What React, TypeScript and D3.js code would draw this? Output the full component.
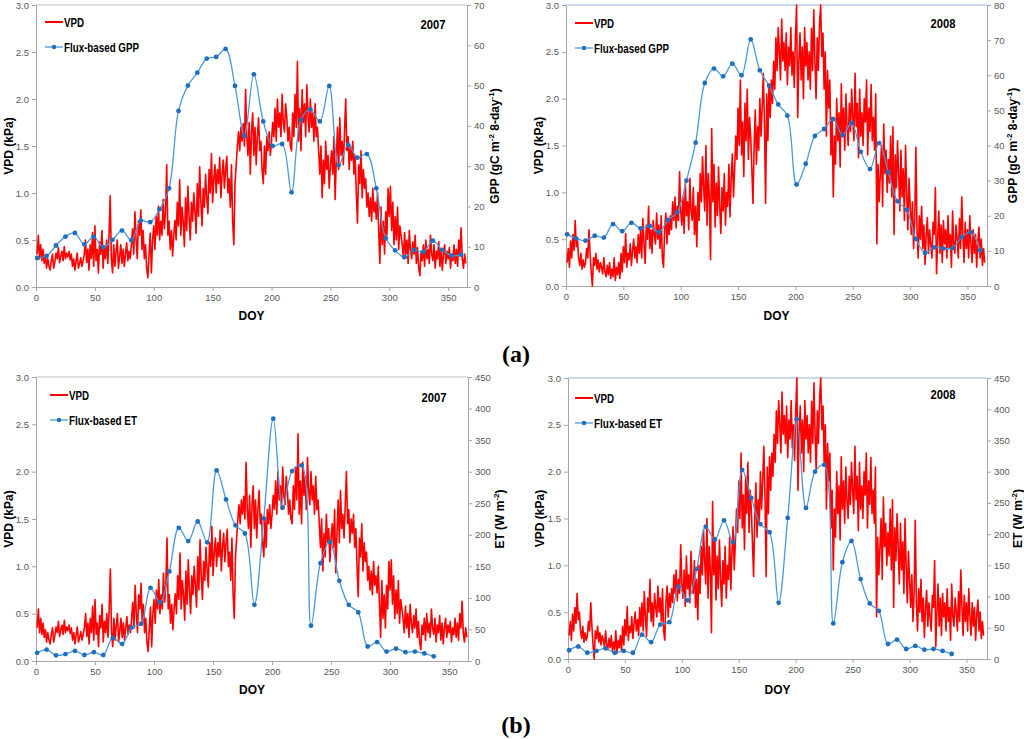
import { useEffect, useRef } from "react";
import * as d3 from "d3";

// daily VPD (kPa), DOY 1..365
const vpd2007 = [
  0.35, 0.55, 0.3, 0.45, 0.28, 0.4, 0.25, 0.33, 0.2, 0.3,
  0.22, 0.18, 0.28, 0.35, 0.2, 0.27, 0.36, 0.3, 0.42, 0.26,
  0.33, 0.38, 0.28, 0.43, 0.3, 0.36, 0.32, 0.38, 0.29, 0.35,
  0.22, 0.3, 0.18, 0.27, 0.36, 0.2, 0.25, 0.31, 0.22, 0.28,
  0.35, 0.5, 0.26, 0.4, 0.18, 0.45, 0.3, 0.58, 0.22, 0.65,
  0.28, 0.4, 0.15, 0.48, 0.35, 0.6, 0.2, 0.42, 0.3, 0.5,
  0.25, 0.55, 0.97, 0.3, 0.15, 0.45, 0.22, 0.38, 0.5, 0.2,
  0.32, 0.45, 0.25, 0.4, 0.22, 0.35, 0.47, 0.28, 0.38, 0.3,
  0.45, 0.62, 0.35, 0.8, 0.5, 0.3, 0.7, 0.55, 0.82, 0.4,
  0.6, 0.3, 0.45, 0.2, 0.1, 0.35, 0.57, 0.15, 0.5, 0.65,
  0.4, 0.75, 0.55, 0.86, 0.5, 0.7, 0.55, 0.93, 0.62, 0.8,
  1.3, 0.55, 0.7, 0.4, 0.6, 0.33, 0.55, 0.71, 0.5, 0.9,
  0.65, 1.14, 0.55, 0.85, 0.7, 0.43, 0.95, 0.6, 1.07, 0.75,
  0.5, 0.9, 0.7, 1.0, 0.8, 0.57, 1.1, 0.75, 1.28, 0.9,
  0.65, 1.05, 0.85, 1.2, 0.95, 0.78, 1.25, 1.0, 1.42, 0.9,
  1.15, 1.3, 1.0, 1.25, 1.1, 1.38, 0.95, 1.2, 1.35, 1.05,
  1.25, 1.39, 1.0, 1.15, 0.85, 1.3, 0.7, 0.45, 1.1, 1.3,
  1.5, 1.65, 1.45, 1.7, 1.55, 1.74, 1.5, 2.1, 1.6, 1.4,
  1.75, 1.2, 1.65, 1.85, 1.4, 1.7, 1.3, 1.6, 1.8, 1.45,
  1.55, 1.25, 1.1, 1.5, 1.2, 1.6, 1.45, 1.65, 1.4, 1.55,
  1.75, 1.6, 1.9, 1.55, 2.0, 1.7, 1.85, 1.6, 2.05, 1.75,
  1.65, 1.95, 1.8, 1.55, 1.7, 1.5, 1.45, 1.85, 1.6, 2.05,
  1.7, 2.4, 1.55, 1.9, 1.45, 2.1, 1.75, 1.95, 1.6, 2.15,
  1.8, 1.65, 2.0, 1.7, 1.85, 1.55, 1.95, 1.6, 1.7, 1.45,
  1.2, 1.5, 0.95, 1.35, 1.1, 1.55, 1.25, 1.4, 1.05, 1.3,
  1.45, 1.2, 1.6, 0.93, 1.35, 1.7, 1.25, 1.8, 1.4, 1.55,
  1.3, 1.65, 2.0, 1.45, 1.6, 1.25, 1.5, 1.35, 1.55, 1.2,
  1.4, 1.0, 0.68, 1.3, 1.1, 1.45, 0.95, 1.25, 1.05, 1.15,
  0.85, 1.0, 0.75, 0.95, 0.7, 1.05, 0.8, 0.9, 0.72, 1.0,
  0.6, 0.25, 0.85, 0.45, 0.7, 0.35, 0.8, 0.55, 1.05, 0.75,
  1.07, 0.6, 0.9, 0.45, 0.75, 0.5, 0.85, 0.4, 0.65, 0.55,
  0.45, 0.3, 0.58, 0.35, 0.5, 0.25, 0.6, 0.4, 0.3, 0.48,
  0.35, 0.55, 0.25, 0.42, 0.2, 0.12, 0.38, 0.28, 0.45, 0.22,
  0.5, 0.3, 0.4, 0.25, 0.55, 0.35, 0.28, 0.45, 0.2, 0.38,
  0.3, 0.48, 0.22, 0.4, 0.18, 0.35, 0.45, 0.25, 0.38, 0.3,
  0.42, 0.2, 0.35, 0.28, 0.45, 0.25, 0.4, 0.22, 0.5, 0.35,
  0.63, 0.3, 0.2, 0.35, 0.25,
];

const vpd2008 = [
  0.25, 0.4, 0.2, 0.48, 0.3, 0.55, 0.38, 0.7, 0.42, 0.5,
  0.3, 0.22, 0.35, 0.18, 0.28, 0.2, 0.25, 0.4, 0.3, 0.6,
  0.35, 0.15, 0.0, 0.3, 0.22, 0.35, 0.18, 0.28, 0.15, 0.25,
  0.2, 0.13, 0.3, 0.15, 0.1, 0.22, 0.12, 0.25, 0.08, 0.18,
  0.1, 0.3, 0.06, 0.2, 0.12, 0.25, 0.08, 0.35, 0.15, 0.42,
  0.25, 0.56, 0.2, 0.35, 0.28, 0.45, 0.22, 0.38, 0.5, 0.3,
  0.42, 0.25, 0.55, 0.35, 0.6, 0.3, 0.72, 0.45, 0.24, 0.65,
  0.5, 0.85, 0.4, 0.6, 0.35, 0.7, 0.55, 0.45, 0.78, 0.5,
  0.65, 0.4, 0.75, 0.3, 0.2, 0.6, 0.78, 0.45, 0.7, 0.55,
  0.75, 0.6, 0.9, 0.7, 0.95, 0.62, 0.85, 0.7, 1.22, 0.8,
  0.65, 0.95, 0.56, 1.1, 0.75, 0.9, 0.6, 1.15, 0.8, 0.7,
  1.05, 0.55, 0.85, 0.42, 1.0, 0.7, 1.2, 0.9, 1.38, 1.05,
  0.8, 1.5, 0.65, 1.2, 0.95, 0.28, 1.68, 0.9, 1.3, 0.63,
  1.1, 0.75, 1.27, 0.85, 0.56, 1.05, 0.8, 1.2, 0.65, 1.0,
  0.85, 1.3, 0.74, 1.15, 1.41, 0.95, 1.25, 1.6, 1.35, 1.9,
  1.5, 2.2, 1.4, 1.75, 1.17, 1.95, 1.55, 2.1, 1.35, 1.8,
  1.6, 1.25, 0.88, 1.5, 1.88, 1.3, 1.7, 1.45, 2.0, 1.6,
  1.9, 2.27, 1.75, 0.88, 2.05, 1.55, 2.16, 1.8, 2.2, 1.95,
  2.4, 2.1, 2.65, 2.3, 2.76, 2.5, 2.2, 2.85, 2.4, 2.6,
  2.3, 2.7, 2.15, 2.55, 2.35, 2.76, 2.25, 2.5, 2.12, 2.65,
  3.0, 1.8, 2.4, 2.7, 2.2, 2.55, 2.0, 2.76, 2.35, 2.6,
  2.2, 2.5, 2.1, 2.75, 2.3, 2.95, 2.4, 2.0, 2.65, 2.3,
  2.8, 3.0, 2.45, 2.7, 2.1, 2.5, 1.6, 2.3, 1.9, 2.2,
  1.4, 1.8, 0.95, 1.6, 1.3, 2.0, 1.55, 1.85, 1.27, 2.16,
  1.6, 1.9, 1.45, 2.05, 1.7, 1.5, 1.95, 1.65, 2.1, 1.8,
  1.55, 2.27, 1.7, 1.95, 1.37, 2.1, 1.6, 1.85, 1.5, 2.0,
  1.75, 2.2, 1.4, 1.9, 1.65, 2.15, 1.55, 1.8, 1.45, 2.05,
  0.45, 1.3, 0.9, 1.2, 1.5, 0.85, 1.73, 1.2, 1.45, 1.0,
  1.35, 1.1, 1.6, 0.95, 1.7, 0.55, 1.4, 1.05, 1.55, 1.2,
  0.8, 1.45, 0.95, 1.25, 0.7, 1.5, 1.0, 0.6, 1.15, 0.85,
  0.55, 0.9, 0.4, 0.7, 1.48, 0.6, 0.3, 0.75, 0.5, 0.85,
  0.4, 0.65, 0.23, 0.55, 0.73, 0.35, 0.6, 0.45, 0.3, 0.68,
  0.55, 1.05, 0.13, 0.5, 0.8, 0.35, 0.65, 0.25, 0.7, 0.45,
  0.6, 0.3, 0.75, 0.4, 0.55, 0.2, 0.8, 0.45, 0.35, 0.65,
  0.5, 0.3, 0.72, 0.4, 0.95, 0.55, 0.25, 0.68, 0.4, 0.6,
  0.3, 0.75, 0.45, 0.25, 0.6, 0.35, 0.55, 0.2, 0.48, 0.63,
  0.3, 0.5, 0.22, 0.4, 0.25,
];

// 8-day flux values, starting DOY 1
const gpp2007 = [
  7.2, 7.7, 10.3, 12.5, 13.4, 10.6, 12.5, 9.9, 11.7, 14.0,
  11.6, 16.5, 16.1, 19.3, 24.5, 43.7, 50.0, 53.2, 56.7, 57.1,
  59.1, 49.9, 37.5, 52.8, 41.1, 35.0, 35.5, 23.5, 41.5, 44.1,
  41.1, 49.9, 30.2, 35.3, 32.1, 33.0, 24.5, 12.1, 9.1, 7.4,
  9.2, 8.7, 11.5, 9.2, 7.8, 8.0,
];
const gpp2008 = [
  14.7, 13.5, 12.9, 14.3, 13.8, 17.6, 15.6, 18.0, 16.4, 17.1,
  15.3, 18.8, 21.0, 30.0, 40.8, 57.8, 61.9, 59.7, 63.3, 60.0,
  70.2, 61.4, 57.0, 51.7, 48.5, 28.9, 34.8, 42.7, 44.7, 47.5,
  42.9, 46.4, 38.2, 33.3, 40.7, 32.4, 24.1, 21.7, 13.4, 9.4,
  11.0, 10.7, 10.8, 13.9, 15.3, 10.1,
];
const et2007 = [
  13, 18, 9, 11, 16, 9.5, 14, 9.5, 37, 27,
  53, 59, 116, 93, 142, 211, 190, 221, 188, 302,
  256, 215, 202, 89, 226, 384, 243, 301, 310, 56,
  155, 189, 127, 89, 77, 23, 30, 15, 19.5, 14,
  15, 12, 7.4,
];
const et2008 = [
  14, 20, 10, 13, 17, 10, 13, 10, 39, 27,
  55, 59, 116, 94, 144, 212, 191, 222, 187, 303,
  258, 216, 203, 90, 226, 384, 242, 300, 311, 57,
  155, 189, 128, 89, 77, 24, 31, 16, 21, 15,
  16, 13, 8,
];

const vpdTicks = [0, 0.5, 1, 1.5, 2, 2.5, 3];
const doyTicks = [0, 50, 100, 150, 200, 250, 300, 350];
const gppTicks2007 = [0, 10, 20, 30, 40, 50, 60, 70];
const gppTicks2008 = [0, 10, 20, 30, 40, 50, 60, 70, 80];
const etTicks = [0, 50, 100, 150, 200, 250, 300, 350, 400, 450];

const panels = [
  { year: "2007", vpd: vpd2007, flux: gpp2007, fluxName: "Flux-based GPP", kind: "gpp", yTicks: gppTicks2007,
    left: 36, right: 467, top: 5, bottom: 287, xMax: 366, topColor: "#bfbfbf",
    legX: 45, legY: 22, yearX: 433, yearY: 29, vpdLabX: 9, rLabX: 495, doyY: 320 },
  { year: "2008", vpd: vpd2008, flux: gpp2008, fluxName: "Flux-based GPP", kind: "gpp", yTicks: gppTicks2008,
    left: 566, right: 987, top: 5, bottom: 286, xMax: 367, topColor: "#95b3d7",
    legX: 575, legY: 23, yearX: 943, yearY: 28, vpdLabX: 539, rLabX: 1013, doyY: 320 },
  { year: "2007", vpd: vpd2007, flux: et2007, fluxName: "Flux-based ET", kind: "et", yTicks: etTicks,
    left: 36, right: 468, top: 377, bottom: 661, xMax: 366, topColor: "#bfbfbf",
    legX: 50, legY: 395, yearX: 434, yearY: 402, vpdLabX: 9, rLabX: 500, doyY: 694 },
  { year: "2008", vpd: vpd2008, flux: et2008, fluxName: "Flux-based ET", kind: "et", yTicks: etTicks,
    left: 568, right: 987, top: 378, bottom: 659, xMax: 368, topColor: "#95b3d7",
    legX: 575, legY: 398, yearX: 943, yearY: 399, vpdLabX: 540, rLabX: 1018, doyY: 694 },
];

const sans = "'Liberation Sans', Arial, sans-serif";

function App() {
  const svgRef = useRef(null);

  useEffect(() => {
    const svg = d3.select(svgRef.current);
    svg.selectAll("*").remove();

    // bold condensed-looking label (Excel Calibri look)
    const narrowText = (g, x, y, txt, size, len, anchor = "start") =>
      g.append("text")
        .attr("x", x)
        .attr("y", y)
        .attr("text-anchor", anchor)
        .attr("textLength", len)
        .attr("lengthAdjust", "spacingAndGlyphs")
        .text(txt)
        .style("font-family", sans)
        .style("font-weight", "bold")
        .style("font-size", size);

    panels.forEach((p) => {
      const g = svg.append("g");
      const x = d3.scaleLinear().domain([0, p.xMax]).range([p.left, p.right]);
      const yL = d3.scaleLinear().domain([0, 3]).range([p.bottom, p.top]);
      const yR = d3
        .scaleLinear()
        .domain([0, p.yTicks[p.yTicks.length - 1]])
        .range([p.bottom, p.top]);

      // top border
      g.append("line")
        .attr("x1", p.left)
        .attr("x2", p.right)
        .attr("y1", p.top)
        .attr("y2", p.top)
        .attr("stroke", p.topColor)
        .attr("stroke-width", 1);

      const styleAxis = (sel) => {
        sel.selectAll("path").attr("stroke", "#a6a6a6");
        sel.selectAll("line").attr("stroke", "#a6a6a6");
        sel.selectAll("text")
          .attr("fill", "#595959")
          .style("font-family", sans)
          .style("font-size", "9.5px");
      };

      g.append("g")
        .attr("transform", `translate(${p.left},0)`)
        .call(d3.axisLeft(yL).tickValues(vpdTicks).tickFormat(d3.format(".1f")).tickSize(4).tickSizeOuter(0))
        .call(styleAxis);

      g.append("g")
        .attr("transform", `translate(${p.right},0)`)
        .call(d3.axisRight(yR).tickValues(p.yTicks).tickSize(4).tickSizeOuter(0))
        .call(styleAxis);

      g.append("g")
        .attr("transform", `translate(0,${p.bottom})`)
        .call(d3.axisBottom(x).tickValues(doyTicks).tickSize(4).tickSizeOuter(0))
        .call(styleAxis);

      // VPD daily line
      const vpdLine = d3
        .line()
        .x((d, i) => x(i + 1))
        .y((d) => yL(d));
      g.append("path")
        .datum(p.vpd)
        .attr("d", vpdLine)
        .attr("fill", "none")
        .attr("stroke", "#ff0000")
        .attr("stroke-width", 1.6)
        .attr("stroke-linejoin", "round");

      // flux 8-day line
      const days = p.flux.map((d, i) => 1 + i * 8);
      const fluxLine = d3
        .line()
        .x((d, i) => x(days[i]))
        .y((d) => yR(d))
        .curve(d3.curveCatmullRom);
      g.append("path")
        .datum(p.flux)
        .attr("d", fluxLine)
        .attr("fill", "none")
        .attr("stroke", "#4a9ad8")
        .attr("stroke-width", 1.3);
      g.selectAll(".mk")
        .data(p.flux)
        .enter()
        .append("circle")
        .attr("cx", (d, i) => x(days[i]))
        .attr("cy", (d) => yR(d))
        .attr("r", 2.4)
        .attr("fill", "#1f6fc0");

      // legend
      g.append("line")
        .attr("x1", p.legX)
        .attr("x2", p.legX + 18)
        .attr("y1", p.legY)
        .attr("y2", p.legY)
        .attr("stroke", "#ff0000")
        .attr("stroke-width", 2);
      narrowText(g, p.legX + 19, p.legY + 4.5, "VPD", "12.5px", 20);
      g.append("line")
        .attr("x1", p.legX)
        .attr("x2", p.legX + 18)
        .attr("y1", p.legY + 25)
        .attr("y2", p.legY + 25)
        .attr("stroke", "#4a9ad8")
        .attr("stroke-width", 1.3);
      g.append("circle")
        .attr("cx", p.legX + 9)
        .attr("cy", p.legY + 25)
        .attr("r", 2.2)
        .attr("fill", "#1f6fc0");
      narrowText(g, p.legX + 19, p.legY + 29.5, p.fluxName, "12.5px", p.kind === "gpp" ? 75 : 68);

      // year
      narrowText(g, p.yearX, p.yearY, p.year, "13px", 25, "middle");

      // axis titles
      const midY = (p.top + p.bottom) / 2;
      g.append("text")
        .attr("transform", `translate(${p.vpdLabX + 4},${midY}) rotate(-90)`)
        .attr("text-anchor", "middle")
        .text("VPD (kPa)")
        .style("font-family", sans)
        .style("font-weight", "bold")
        .style("font-size", "12px");

      g.append("text")
        .attr("x", (p.left + p.right) / 2)
        .attr("y", p.doyY)
        .attr("text-anchor", "middle")
        .text("DOY")
        .style("font-family", sans)
        .style("font-weight", "bold")
        .style("font-size", "12px");

      const rt = g
        .append("text")
        .attr("transform", `translate(${p.rLabX + 4},${midY}) rotate(-90)`)
        .attr("text-anchor", "middle")
        .style("font-family", sans)
        .style("font-weight", "bold")
        .style("font-size", "12px");
      if (p.kind === "gpp") {
        rt.append("tspan").text("GPP (gC m");
        rt.append("tspan").attr("dy", -5).style("font-size", "8px").text("-2");
        rt.append("tspan").attr("dy", 5).text(" 8-day");
        rt.append("tspan").attr("dy", -5).style("font-size", "8px").text("-1");
        rt.append("tspan").attr("dy", 5).text(")");
      } else {
        rt.append("tspan").text("ET (W m");
        rt.append("tspan").attr("dy", -5).style("font-size", "8px").text("-2");
        rt.append("tspan").attr("dy", 5).text(")");
      }
    });

    // panel labels
    [
      { t: "(a)", y: 362 },
      { t: "(b)", y: 733 },
    ].forEach((l) => {
      svg
        .append("text")
        .attr("x", 516)
        .attr("y", l.y)
        .attr("text-anchor", "middle")
        .text(l.t)
        .style("font-family", "'Liberation Serif', 'Times New Roman', serif")
        .style("font-weight", "bold")
        .style("font-size", "24px");
    });
  }, []);

  return (
    <svg
      ref={svgRef}
      width={1024}
      height={739}
      style={{ position: "absolute", left: 0, top: 0, background: "#fff" }}
    ></svg>
  );
}

export default App;
